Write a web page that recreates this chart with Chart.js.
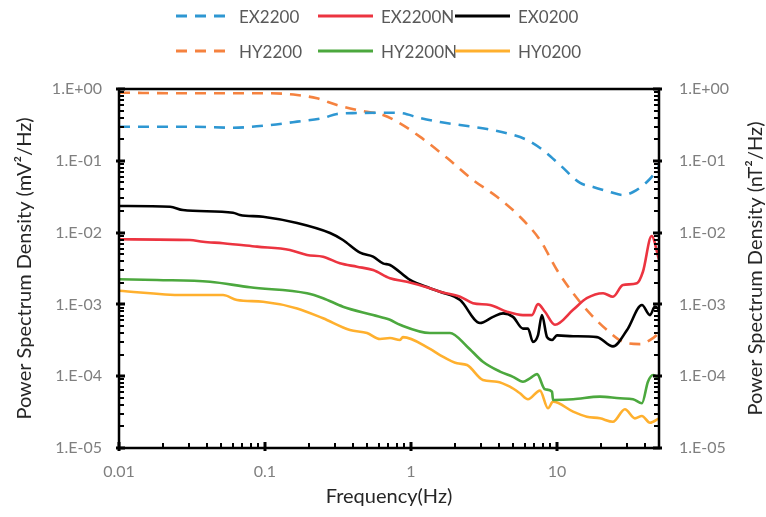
<!DOCTYPE html>
<html>
<head>
<meta charset="utf-8">
<script src="https://cdn.jsdelivr.net/npm/chart.js@4.4.1/dist/chart.umd.min.js"></script>
<style>
  body { margin: 0; background: #fff; }
  #wrap { position: relative; width: 766px; height: 517px; }
  #legend { position: absolute; left: 0; top: 0; width: 766px; height: 70px;
            font-family: Lato, "Open Sans", sans-serif; font-size: 17px; color: #595959; }
  .item { position: absolute; display: flex; align-items: center; height: 22px; white-space: nowrap; }
  .item span { margin-left: 8px; }
</style>
</head>
<body>
<div id="wrap">
  <canvas id="psdChart" width="766" height="517"></canvas>
  <div id="legend"></div>
</div>
<script>
// Electric channels (mV²/Hz)
const ex2200Freq = [0.01, 0.0306, 0.0604, 0.108, 0.166, 0.25, 0.311, 0.427, 0.643, 0.841, 1.15, 1.58, 2.17, 3.32, 4.76, 6.23, 8.02, 10.5, 14.4, 17.7, 23.1, 28.3, 33.2, 41.3, 48.4, 50];
const ex2200Psd  = [0.298, 0.298, 0.289, 0.315, 0.351, 0.395, 0.449, 0.463, 0.468, 0.463, 0.395, 0.347, 0.315, 0.277, 0.236, 0.195, 0.141, 0.0874, 0.0491, 0.0432, 0.0368, 0.0334, 0.0368, 0.0507, 0.0745, 0.085];

const ex2200nFreq = [0.01, 0.0306, 0.0376, 0.0516, 0.0881, 0.148, 0.194, 0.25, 0.326, 0.427, 0.55, 0.718, 0.939, 1.35, 1.58, 2.17, 2.66, 3.48, 4.55, 5.85, 6.74, 7.41, 8.28, 9.69, 12.9, 16.0, 20.7, 24.2, 28.3, 35.3, 38.8, 44.5, 50];
const ex2200nPsd  = [0.00807, 0.00789, 0.00747, 0.0071, 0.00637, 0.00573, 0.00488, 0.00462, 0.00373, 0.00335, 0.00301, 0.00231, 0.00207, 0.00168, 0.0015, 0.00128, 0.00104, 0.00098, 0.00079, 0.00071, 0.00071, 0.00101, 0.00079, 0.00052, 0.00084, 0.00122, 0.00143, 0.00128, 0.00186, 0.00197, 0.00285, 0.00897, 0.0042];

const ex0200Freq = [0.01, 0.0224, 0.0274, 0.0604, 0.0674, 0.0969, 0.166, 0.279, 0.342, 0.448, 0.55, 0.643, 0.718, 0.985, 1.35, 1.58, 2.17, 2.97, 3.65, 4.27, 5.0, 5.85, 6.33, 6.85, 7.41, 7.89, 8.55, 9.25, 10.0, 12.9, 18.8, 24.2, 30.2, 38.2, 43.4, 46.9, 50];
const ex0200Psd  = [0.0235, 0.0229, 0.0206, 0.0189, 0.0176, 0.0166, 0.0136, 0.00987, 0.00789, 0.00525, 0.00462, 0.00373, 0.00354, 0.00219, 0.00168, 0.0015, 0.00115, 0.00055, 0.00067, 0.00075, 0.00067, 0.00046, 0.00046, 0.0003, 0.00037, 0.00071, 0.00035, 0.00032, 0.00037, 0.00036, 0.00035, 0.00026, 0.00044, 0.00098, 0.00071, 0.00093, 0.00085];

// Magnetic channels (nT²/Hz)
const hy2200Freq = [0.01, 0.0306, 0.108, 0.166, 0.227, 0.311, 0.427, 0.643, 0.841, 1.15, 1.77, 2.66, 3.88, 5.58, 7.65, 10.0, 12.9, 16.8, 22.0, 28.3, 37.0, 45.5, 50];
const hy2200Psd  = [0.888, 0.871, 0.871, 0.825, 0.742, 0.599, 0.51, 0.435, 0.333, 0.217, 0.109, 0.0541, 0.0316, 0.0166, 0.00789, 0.00301, 0.00143, 0.00075, 0.00044, 0.0003, 0.00028, 0.00034, 0.0004];

const hy2200nFreq = [0.01, 0.0182, 0.042, 0.0789, 0.194, 0.25, 0.342, 0.55, 0.718, 0.841, 1.35, 1.85, 2.42, 3.11, 4.07, 5.0, 5.85, 6.53, 7.3, 8.28, 9.25, 9.4, 12.9, 19.7, 27.0, 33.2, 38.2, 42.0, 45.5, 50];
const hy2200nPsd  = [0.00224, 0.00219, 0.00207, 0.00173, 0.00143, 0.00122, 0.00093, 0.00071, 0.00061, 0.00052, 0.0004, 0.0004, 0.00026, 0.000159, 0.000116, 0.000098, 0.0000838, 0.0000935, 0.000107, 0.0000657, 0.0000608, 0.0000467, 0.0000477, 0.0000519, 0.0000492, 0.0000477, 0.000042, 0.0000838, 0.000104, 0.0000935];

const hy0200Freq = [0.01, 0.0274, 0.0516, 0.0643, 0.0969, 0.166, 0.25, 0.382, 0.5, 0.614, 0.718, 0.841, 0.881, 1.35, 1.58, 2.07, 2.42, 3.11, 3.88, 4.76, 5.58, 6.33, 7.65, 8.68, 9.4, 12.9, 16.0, 19.7, 24.2, 29.2, 34.2, 38.2, 43.4, 50];
const hy0200Psd  = [0.00155, 0.00135, 0.00135, 0.00115, 0.00109, 0.00088, 0.00064, 0.00044, 0.0004, 0.00033, 0.00034, 0.00032, 0.00035, 0.00024, 0.000197, 0.000151, 0.000143, 0.0000885, 0.0000838, 0.0000714, 0.0000578, 0.0000477, 0.0000629, 0.0000357, 0.0000442, 0.0000321, 0.0000273, 0.0000259, 0.0000232, 0.0000346, 0.0000259, 0.0000279, 0.0000225, 0.0000259];

// axis ticks that get a label
const freqTicks = [0.01, 0.1, 1, 10];
const psdTicks = [1e-5, 1e-4, 1e-3, 1e-2, 1e-1, 1];

const FONT = 'Lato, "Open Sans", sans-serif';

const series = [
    { label: 'EX2200',  freq: ex2200Freq,  psd: ex2200Psd,  color: '#2E97D2', dash: [11, 8] },
    { label: 'EX2200N', freq: ex2200nFreq, psd: ex2200nPsd, color: '#EC3440', dash: [] },
    { label: 'EX0200',  freq: ex0200Freq,  psd: ex0200Psd,  color: '#000000', dash: [] },
    { label: 'HY2200',  freq: hy2200Freq,  psd: hy2200Psd,  color: '#F5823F', dash: [11, 8] },
    { label: 'HY2200N', freq: hy2200nFreq, psd: hy2200nPsd, color: '#4CA83E', dash: [] },
    { label: 'HY0200',  freq: hy0200Freq,  psd: hy0200Psd,  color: '#FFB02E', dash: [] }
];

function sciLabel(v) {
    const e = Math.round(Math.log10(v));
    const s = String(Math.abs(e)).padStart(2, '0');
    return '1.E' + (e < 0 ? '-' : '+') + s;
}

// 1..9 per decade between min and max
function logMarks(min, max) {
    const out = [];
    for (let d = Math.floor(Math.log10(min)); d <= Math.ceil(Math.log10(max)); d++) {
        for (let k = 1; k <= 9; k++) {
            const v = k * Math.pow(10, d);
            if (v >= min * 0.9999 && v <= max * 1.0001) out.push({ v: v, major: k === 1 });
        }
    }
    return out;
}

/* box around the plot + tick marks pointing inwards + right title */
const frame = {
    id: 'frame',
    afterDatasetsDraw(chart) {
        const ctx = chart.ctx;
        const a = chart.chartArea;
        const xs = chart.scales.x, ys = chart.scales.y;
        ctx.save();
        ctx.strokeStyle = '#000';
        ctx.lineCap = 'butt';

        logMarks(xs.min, xs.max).forEach(m => {
            const px = Math.round(xs.getPixelForValue(m.v));
            ctx.lineWidth = m.major ? 3 : 2;
            ctx.beginPath();
            ctx.moveTo(px, a.bottom + (m.major ? 3 : 0));
            ctx.lineTo(px, a.bottom - (m.major ? 6 : 5));
            ctx.stroke();
        });
        logMarks(ys.min, ys.max).forEach(m => {
            const py = Math.round(ys.getPixelForValue(m.v));
            ctx.lineWidth = m.major ? 3 : 2;
            ctx.beginPath();
            ctx.moveTo(a.left - (m.major ? 3 : 0), py);
            ctx.lineTo(a.left + (m.major ? 6 : 5), py);
            ctx.moveTo(a.right + (m.major ? 3 : 0), py);
            ctx.lineTo(a.right - (m.major ? 6 : 5), py);
            ctx.stroke();
        });

        ctx.lineWidth = 2.5;
        ctx.strokeRect(a.left, a.top, a.right - a.left, a.bottom - a.top);

        ctx.fillStyle = '#262626';
        ctx.font = '20px ' + FONT;
        ctx.textAlign = 'center';
        ctx.textBaseline = 'middle';
        ctx.translate(756, (a.top + a.bottom) / 2);
        ctx.rotate(-Math.PI / 2);
        ctx.fillText('Power Spectrum Density (nT²/Hz)', 0, 0);
        ctx.restore();
    }
};

const ctx = document.getElementById('psdChart').getContext('2d');

new Chart(ctx, {
    type: 'line',
    data: {
        datasets: series.map(s => ({
            label: s.label,
            data: s.freq.map((f, i) => ({ x: f, y: s.psd[i] })),
            borderColor: s.color,
            backgroundColor: s.color,
            borderWidth: 2.6,
            borderDash: s.dash,
            pointRadius: 0,
            cubicInterpolationMode: 'monotone',
            fill: false
        }))
    },
    options: {
        responsive: false,
        animation: false,
        layout: { padding: { top: 89, left: 0, right: 0, bottom: 0 } },
        plugins: {
            legend: { display: false },
            tooltip: { enabled: false }
        },
        scales: {
            x: {
                type: 'logarithmic',
                min: 0.01,
                max: 50,
                afterFit: s => { s.height = 69; },
                afterBuildTicks: s => { s.ticks = freqTicks.map(v => ({ value: v })); },
                grid: { display: false },
                border: { display: false },
                ticks: {
                    padding: 6,
                    maxRotation: 0,
                    color: '#7F7F7F',
                    font: { family: FONT, size: 16 },
                    callback: v => String(v)
                },
                title: {
                    display: true,
                    text: 'Frequency(Hz)',
                    color: '#262626',
                    font: { family: FONT, size: 20 },
                    padding: { top: 0, bottom: 8 }
                }
            },
            y: {
                type: 'logarithmic',
                position: 'left',
                min: 1e-5,
                max: 1,
                afterFit: s => { s.width = 119; },
                afterBuildTicks: s => { s.ticks = psdTicks.map(v => ({ value: v })); },
                grid: { display: false },
                border: { display: false },
                ticks: {
                    padding: 9,
                    color: '#7F7F7F',
                    font: { family: FONT, size: 16 },
                    callback: v => sciLabel(v)
                },
                title: {
                    display: true,
                    text: 'Power Spectrum Density (mV²/Hz)',
                    color: '#262626',
                    font: { family: FONT, size: 20 },
                    padding: { top: 13, bottom: 0 }
                }
            },
            y2: {
                type: 'logarithmic',
                position: 'right',
                min: 1e-5,
                max: 1,
                afterFit: s => { s.width = 107; },
                afterBuildTicks: s => { s.ticks = psdTicks.map(v => ({ value: v })); },
                grid: { display: false },
                border: { display: false },
                ticks: {
                    padding: 12,
                    color: '#7F7F7F',
                    font: { family: FONT, size: 16 },
                    callback: v => sciLabel(v)
                }
            }
        }
    },
    plugins: [frame]
});

// legend: two rows of three
const legendCols = [176, 318, 455];
const legendRows = [16, 51];
const legend = document.getElementById('legend');
series.forEach((s, i) => {
    const item = document.createElement('div');
    item.className = 'item';
    item.style.left = legendCols[i % 3] + 'px';
    item.style.top = (legendRows[Math.floor(i / 3)] - 11) + 'px';
    const dash = s.dash.length ? ' stroke-dasharray="' + s.dash.join(' ') + '"' : '';
    item.innerHTML = '<svg width="55" height="6"><line x1="0" y1="3" x2="55" y2="3" stroke="' + s.color +
        '" stroke-width="3"' + dash + '/></svg><span>' + s.label + '</span>';
    legend.appendChild(item);
});
</script>
</body>
</html>
